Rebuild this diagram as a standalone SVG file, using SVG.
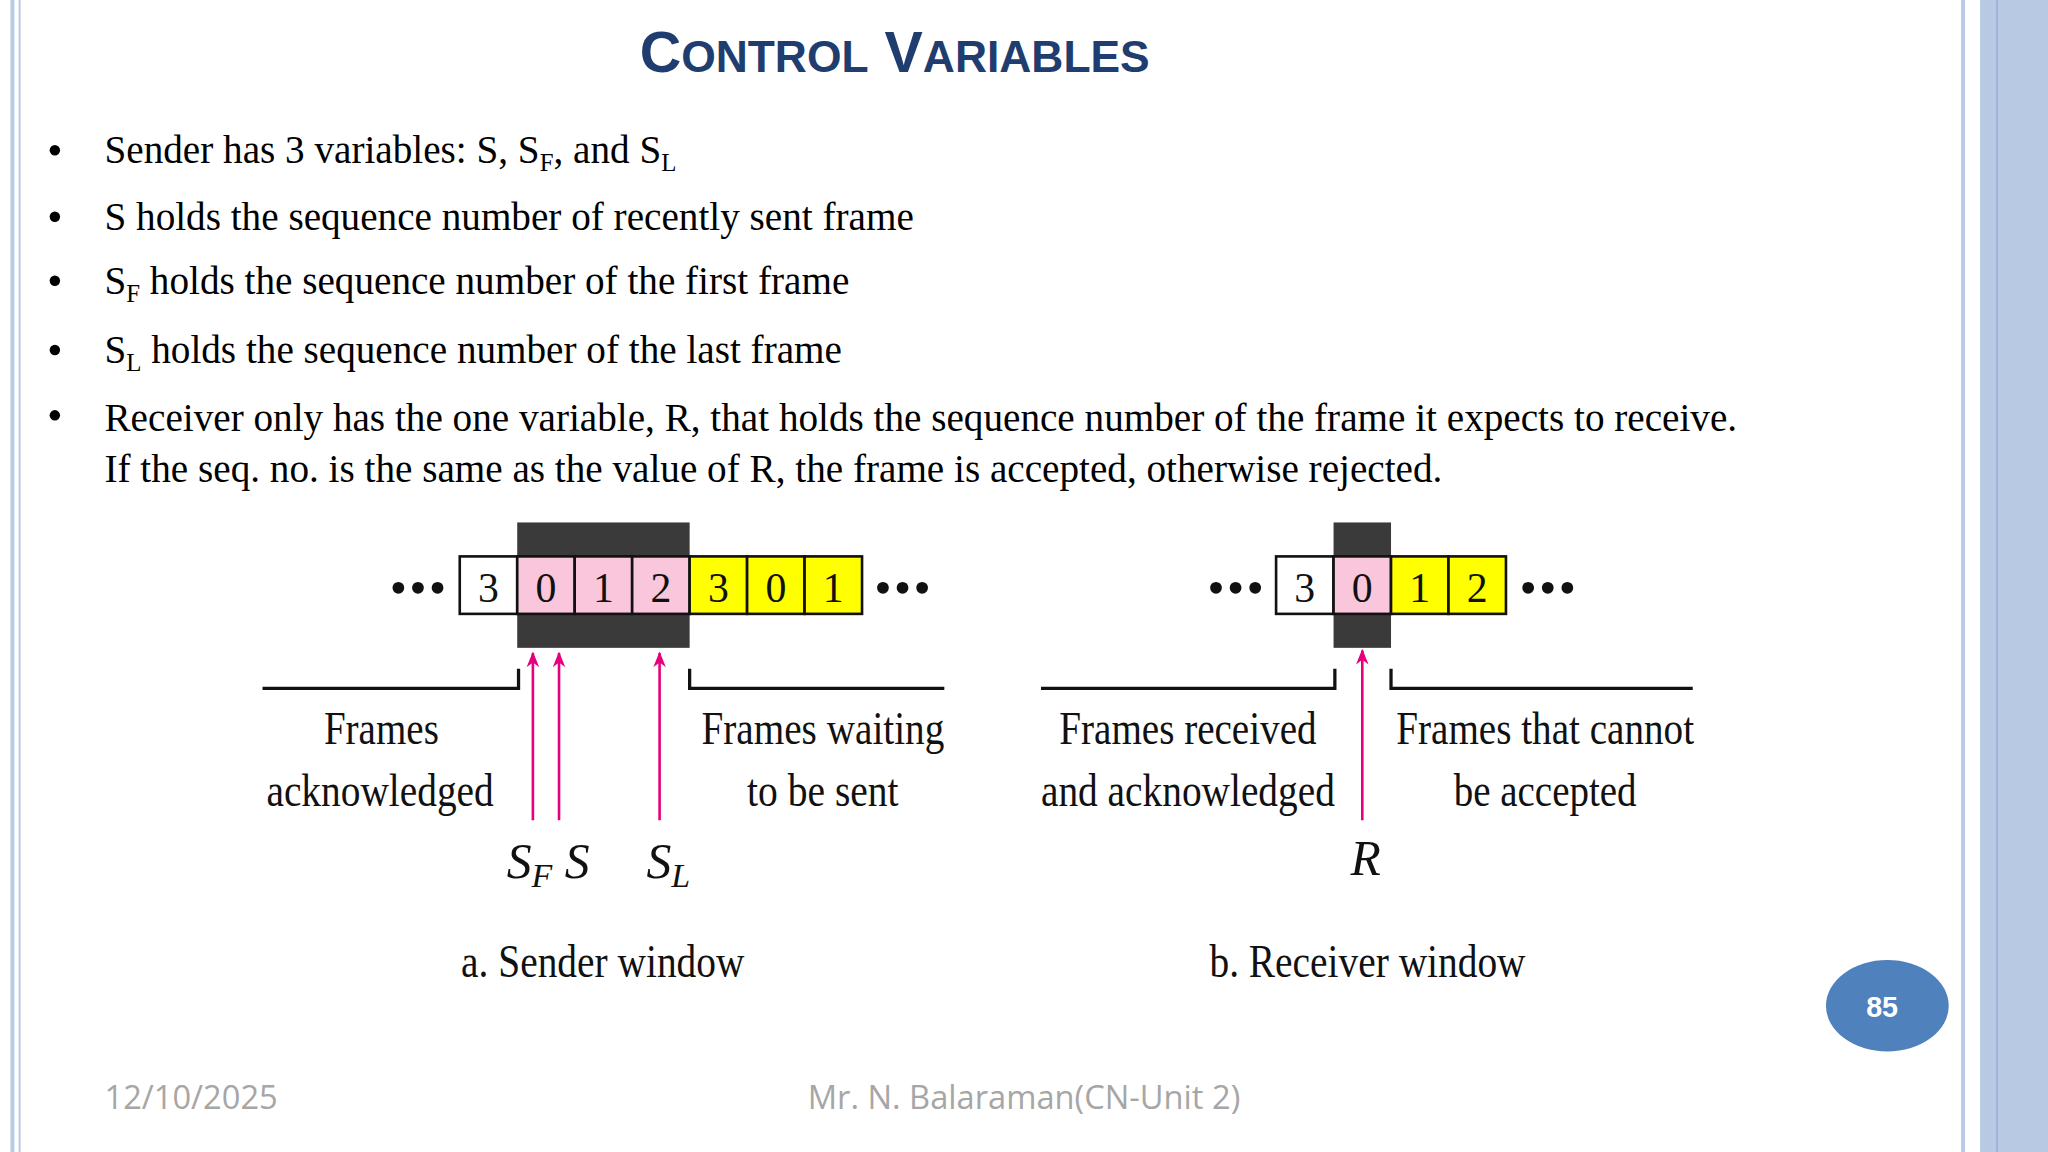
<svg xmlns="http://www.w3.org/2000/svg" width="2048" height="1152" viewBox="0 0 2048 1152">
<defs>
<style>
.b{font-family:"Liberation Serif",serif;font-size:30px;fill:#000}
.s{font-size:19px}
.f{font-family:"Liberation Serif",serif;font-size:36px;fill:#111}
.d{font-family:"Liberation Serif",serif;font-size:32px;fill:#111;text-anchor:middle}
.i{font-family:"Liberation Serif",serif;font-style:italic;font-size:38px;fill:#111}
.ln{stroke:#111;stroke-width:2.5;fill:none}
.ar{stroke:#e6007e;stroke-width:2;marker-end:url(#ah)}
.c{stroke:#111;stroke-width:2}
</style>
<marker id="ah" viewBox="0 0 10 10" refX="9" refY="5" markerWidth="6" markerHeight="8" orient="auto"><path d="M0,1 L10,5 L0,9 L3,5 z" fill="#e6007e"/></marker>
</defs>
<rect width="2048" height="1152" fill="#fff"/>
<g transform="scale(1.306122)">
<g id="frame">
<rect x="8" y="0" width="3" height="882" fill="#b8c9e3"/>
<line x1="15" y1="0" x2="15" y2="882" stroke="#b8c9e3" stroke-width="1.5"/>
<line x1="1503" y1="0" x2="1503" y2="882" stroke="#b8c9e3" stroke-width="3"/>
<rect x="1516" y="0" width="52" height="882" fill="#b8c9e3"/>
<line x1="1529" y1="0" x2="1529" y2="882" stroke="#9fb3d6" stroke-width="1.5"/>
</g>
<text x="685" y="55" text-anchor="middle" font-family="Liberation Sans,sans-serif" font-weight="bold" fill="#1f3d6e" font-size="44">C<tspan font-size="34">ONTROL</tspan> V<tspan font-size="34">ARIABLES</tspan></text>
<g id="bullets">
<g fill="#000"><circle cx="42" cy="115" r="4"/><circle cx="42" cy="166" r="4"/><circle cx="42" cy="215" r="4"/><circle cx="42" cy="268" r="4"/><circle cx="42" cy="318" r="4"/></g>
<text class="b" x="80" y="125">Sender has 3 variables: S, S<tspan class="s" dy="6">F</tspan><tspan dy="-6">, and S</tspan><tspan class="s" dy="6">L</tspan></text>
<text class="b" x="80" y="176">S holds the sequence number of recently sent frame</text>
<text class="b" x="80" y="225">S<tspan class="s" dy="6">F</tspan><tspan dy="-6"> holds the sequence number of the first frame</tspan></text>
<text class="b" x="80" y="278">S<tspan class="s" dy="6">L</tspan><tspan dy="-6"> holds the sequence number of the last frame</tspan></text>
<text class="b" x="80" y="330">Receiver only has the one variable, R, that holds the sequence  number of the frame it expects to receive.</text>
<text class="b" x="80" y="369">If the seq. no. is the  same as the value of R, the frame is accepted, otherwise rejected.</text>
</g>
<g id="sender">
<rect x="396" y="400" width="132" height="96" fill="#3a3a3a"/>
<rect x="352" y="426" width="44" height="44" fill="#fff" class="c"/>
<rect x="396" y="426" width="44" height="44" fill="#f9c6dc" class="c"/>
<rect x="440" y="426" width="44" height="44" fill="#f9c6dc" class="c"/>
<rect x="484" y="426" width="44" height="44" fill="#f9c6dc" class="c"/>
<rect x="528" y="426" width="44" height="44" fill="#ffff00" class="c"/>
<rect x="572" y="426" width="44" height="44" fill="#ffff00" class="c"/>
<rect x="616" y="426" width="44" height="44" fill="#ffff00" class="c"/>
<text class="d" x="374" y="461">3</text><text class="d" x="418" y="461">0</text><text class="d" x="462" y="461">1</text><text class="d" x="506" y="461">2</text><text class="d" x="550" y="461">3</text><text class="d" x="594" y="461">0</text><text class="d" x="638" y="461">1</text>
<g fill="#111"><circle cx="305" cy="450" r="4.5"/><circle cx="320" cy="450" r="4.5"/><circle cx="335" cy="450" r="4.5"/><circle cx="676" cy="450" r="4.5"/><circle cx="691" cy="450" r="4.5"/><circle cx="706" cy="450" r="4.5"/></g>
<text class="f" x="248" y="570" textLength="88" lengthAdjust="spacingAndGlyphs">Frames</text>
<text class="f" x="204" y="617" textLength="174" lengthAdjust="spacingAndGlyphs">acknowledged</text>
<text class="f" x="537" y="570" textLength="186" lengthAdjust="spacingAndGlyphs">Frames waiting</text>
<text class="f" x="572" y="617" textLength="116" lengthAdjust="spacingAndGlyphs">to be sent</text>
<text class="i" x="388" y="672">S<tspan font-size="26" dy="7">F</tspan><tspan dy="-7"> S</tspan></text>
<text class="i" x="495" y="672">S<tspan font-size="26" dy="7">L</tspan></text>
<text class="f" x="353" y="748" textLength="217" lengthAdjust="spacingAndGlyphs">a. Sender window</text>
</g>
<g id="receiver">
<rect x="1021" y="400" width="44" height="96" fill="#3a3a3a"/>
<rect x="977" y="426" width="44" height="44" fill="#fff" class="c"/>
<rect x="1021" y="426" width="44" height="44" fill="#f9c6dc" class="c"/>
<rect x="1065" y="426" width="44" height="44" fill="#ffff00" class="c"/>
<rect x="1109" y="426" width="44" height="44" fill="#ffff00" class="c"/>
<text class="d" x="999" y="461">3</text><text class="d" x="1043" y="461">0</text><text class="d" x="1087" y="461">1</text><text class="d" x="1131" y="461">2</text>
<g fill="#111"><circle cx="931" cy="450" r="4.5"/><circle cx="946" cy="450" r="4.5"/><circle cx="961" cy="450" r="4.5"/><circle cx="1170" cy="450" r="4.5"/><circle cx="1185" cy="450" r="4.5"/><circle cx="1200" cy="450" r="4.5"/></g>
<text class="f" x="811" y="570" textLength="197" lengthAdjust="spacingAndGlyphs">Frames received</text>
<text class="f" x="797" y="617" textLength="225" lengthAdjust="spacingAndGlyphs">and acknowledged</text>
<text class="f" x="1069" y="570" textLength="228" lengthAdjust="spacingAndGlyphs">Frames that cannot</text>
<text class="f" x="1113" y="617" textLength="140" lengthAdjust="spacingAndGlyphs">be accepted</text>
<text class="i" x="1034" y="670">R</text>
<text class="f" x="926" y="748" textLength="242" lengthAdjust="spacingAndGlyphs">b. Receiver window</text>
</g>
<g id="connectors">
<path class="ln" d="M201,527 H397 V512 M528,512 V527 H723 M797,527 H1022 V512 M1065,512 V527 H1296"/>
<line class="ar" x1="408" y1="628" x2="408" y2="500"/>
<line class="ar" x1="428" y1="628" x2="428" y2="500"/>
<line class="ar" x1="505" y1="628" x2="505" y2="500"/>
<line class="ar" x1="1043" y1="628" x2="1043" y2="498"/>
</g>
<g id="page">
<ellipse cx="1445" cy="770" rx="47" ry="35" fill="#4f81bd"/>
<text x="1441" y="779" text-anchor="middle" font-family="Liberation Sans,sans-serif" font-weight="bold" font-size="22" fill="#fff">85</text>
</g>
<g id="footer" font-family="Open Sans,sans-serif" font-size="25" fill="#a6a6a6">
<text x="80" y="849">12/10/2025</text>
<text x="784" y="849" text-anchor="middle">Mr. N. Balaraman(CN-Unit 2)</text>
</g>
</g>
</svg>
